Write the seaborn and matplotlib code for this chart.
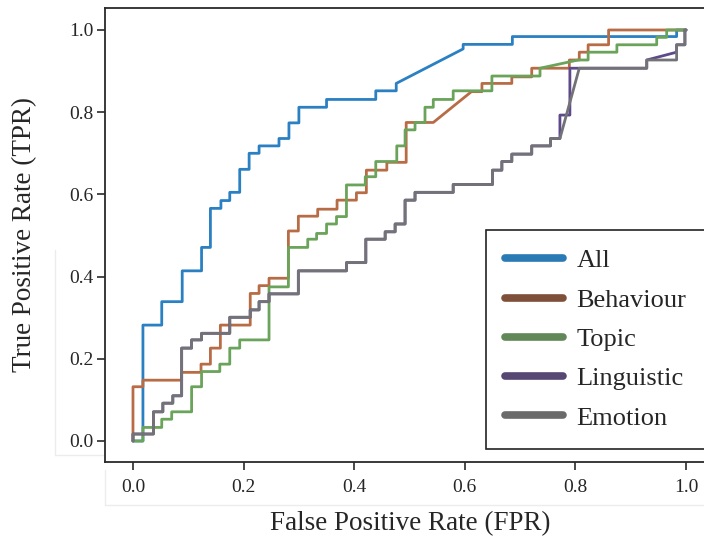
import matplotlib
matplotlib.use("Agg")
import matplotlib.pyplot as plt
from matplotlib.lines import Line2D
import seaborn as sns
import pandas as pd

# ---- data: ROC curve corner points ----
series_names = ["All", "Behaviour", "Topic", "Linguistic", "Emotion"]

all_fpr = [0, 0.018, 0.018, 0.052, 0.052, 0.089, 0.089, 0.124, 0.124, 0.140, 0.140, 0.159, 0.159,
           0.175, 0.175, 0.193, 0.193, 0.210, 0.210, 0.228, 0.228, 0.264, 0.264, 0.282, 0.282,
           0.300, 0.300, 0.350, 0.350, 0.439, 0.439, 0.476, 0.476, 0.597, 0.597, 0.686, 0.686,
           0.983, 0.983, 1.0]
all_tpr = [0, 0, 0.282, 0.282, 0.339, 0.339, 0.414, 0.414, 0.471, 0.471, 0.566, 0.566, 0.585,
           0.585, 0.605, 0.605, 0.661, 0.661, 0.700, 0.700, 0.718, 0.718, 0.736, 0.736, 0.774,
           0.774, 0.812, 0.812, 0.831, 0.831, 0.852, 0.852, 0.870, 0.954, 0.965, 0.965, 0.984,
           0.984, 1.0, 1.0]

beh_fpr = [0, 0, 0.018, 0.018, 0.088, 0.088, 0.123, 0.123, 0.140, 0.140, 0.158, 0.158, 0.212,
           0.212, 0.228, 0.228, 0.246, 0.246, 0.281, 0.281, 0.299, 0.299, 0.334, 0.334, 0.369,
           0.369, 0.404, 0.404, 0.422, 0.422, 0.459, 0.459, 0.494, 0.494, 0.543, 0.612, 0.631,
           0.631, 0.685, 0.685, 0.721, 0.721, 0.789, 0.789, 0.807, 0.807, 0.823, 0.823, 0.860,
           0.860, 1.0]
beh_tpr = [0, 0.132, 0.132, 0.148, 0.148, 0.167, 0.167, 0.187, 0.187, 0.226, 0.226, 0.282, 0.282,
           0.359, 0.359, 0.378, 0.378, 0.396, 0.396, 0.511, 0.511, 0.547, 0.547, 0.564, 0.564,
           0.586, 0.586, 0.604, 0.604, 0.659, 0.659, 0.678, 0.678, 0.775, 0.775, 0.850, 0.850,
           0.870, 0.870, 0.886, 0.886, 0.907, 0.907, 0.927, 0.927, 0.946, 0.946, 0.964, 0.964,
           1.0, 1.0]

top_fpr = [0, 0.018, 0.018, 0.052, 0.052, 0.070, 0.070, 0.106, 0.106, 0.124, 0.124, 0.157, 0.157,
           0.175, 0.175, 0.193, 0.193, 0.246, 0.246, 0.281, 0.281, 0.316, 0.316, 0.332, 0.332,
           0.350, 0.350, 0.368, 0.368, 0.386, 0.386, 0.420, 0.420, 0.439, 0.439, 0.477, 0.477,
           0.492, 0.492, 0.510, 0.510, 0.528, 0.528, 0.543, 0.543, 0.579, 0.579, 0.649, 0.649,
           0.736, 0.736, 0.805, 0.823, 0.823, 0.875, 0.875, 0.947, 0.947, 0.965, 0.965, 1.0]
top_tpr = [0, 0, 0.033, 0.033, 0.053, 0.053, 0.071, 0.071, 0.132, 0.132, 0.169, 0.169, 0.187,
           0.187, 0.226, 0.226, 0.246, 0.246, 0.375, 0.375, 0.471, 0.471, 0.491, 0.491, 0.505,
           0.505, 0.528, 0.528, 0.546, 0.546, 0.623, 0.623, 0.643, 0.643, 0.680, 0.680, 0.718,
           0.718, 0.757, 0.757, 0.775, 0.775, 0.812, 0.812, 0.831, 0.831, 0.852, 0.852, 0.888,
           0.888, 0.907, 0.927, 0.927, 0.946, 0.946, 0.964, 0.964, 0.982, 0.982, 1.0, 1.0]

lin_fpr = [0, 0, 0.037, 0.037, 0.054, 0.054, 0.072, 0.072, 0.088, 0.088, 0.106, 0.106, 0.124,
           0.124, 0.175, 0.175, 0.212, 0.212, 0.228, 0.228, 0.246, 0.246, 0.299, 0.299, 0.386,
           0.386, 0.421, 0.421, 0.456, 0.456, 0.474, 0.474, 0.492, 0.492, 0.510, 0.510, 0.579,
           0.579, 0.650, 0.650, 0.667, 0.667, 0.685, 0.685, 0.721, 0.721, 0.755, 0.755, 0.772,
           0.772, 0.790, 0.790, 0.929, 0.929, 0.983, 0.983, 0.998, 0.998, 1.0]
lin_tpr = [0, 0.017, 0.017, 0.071, 0.071, 0.092, 0.092, 0.110, 0.110, 0.226, 0.226, 0.246, 0.246,
           0.262, 0.262, 0.301, 0.301, 0.319, 0.319, 0.339, 0.339, 0.358, 0.358, 0.414, 0.414,
           0.434, 0.434, 0.491, 0.491, 0.509, 0.509, 0.528, 0.528, 0.586, 0.586, 0.605, 0.605,
           0.624, 0.624, 0.659, 0.659, 0.680, 0.680, 0.698, 0.698, 0.718, 0.718, 0.736, 0.736,
           0.793, 0.793, 0.907, 0.907, 0.927, 0.946, 0.964, 0.964, 1.0, 1.0]

emo_fpr = [0, 0, 0.037, 0.037, 0.054, 0.054, 0.072, 0.072, 0.088, 0.088, 0.106, 0.106, 0.124,
           0.124, 0.175, 0.175, 0.212, 0.212, 0.228, 0.228, 0.246, 0.246, 0.299, 0.299, 0.386,
           0.386, 0.421, 0.421, 0.456, 0.456, 0.474, 0.474, 0.492, 0.492, 0.510, 0.510, 0.579,
           0.579, 0.650, 0.650, 0.667, 0.667, 0.685, 0.685, 0.721, 0.721, 0.755, 0.755, 0.772,
           0.807, 0.929, 0.929, 0.983, 0.983, 0.998, 0.998, 1.0]
emo_tpr = [0, 0.017, 0.017, 0.071, 0.071, 0.092, 0.092, 0.110, 0.110, 0.226, 0.226, 0.246, 0.246,
           0.262, 0.262, 0.301, 0.301, 0.319, 0.319, 0.339, 0.339, 0.358, 0.358, 0.414, 0.414,
           0.434, 0.434, 0.491, 0.491, 0.509, 0.509, 0.528, 0.528, 0.586, 0.586, 0.605, 0.605,
           0.624, 0.624, 0.659, 0.659, 0.680, 0.680, 0.698, 0.698, 0.718, 0.718, 0.736, 0.736,
           0.907, 0.907, 0.927, 0.927, 0.964, 0.964, 1.0, 1.0]

x_ticks = [0.0, 0.2, 0.4, 0.6, 0.8, 1.0]
y_ticks = [0.0, 0.2, 0.4, 0.6, 0.8, 1.0]

line_colors = ["#2a80c2", "#b86c46", "#6aa35a", "#5e4a8a", "#737377"]
legend_colors = ["#2a7ab5", "#7e5039", "#62885a", "#564872", "#6b6b6b"]

# ---- build long table ----
curves = [(all_fpr, all_tpr), (beh_fpr, beh_tpr), (top_fpr, top_tpr),
          (lin_fpr, lin_tpr), (emo_fpr, emo_tpr)]
rows = []
for name, (fx, ty) in zip(series_names, curves):
    for i, (a, b) in enumerate(zip(fx, ty)):
        rows.append({"model": name, "order": i, "fpr": a, "tpr": b})
df = pd.DataFrame(rows)

sns.set_theme(style="ticks")
plt.rcParams["font.family"] = ["Liberation Serif", "DejaVu Serif"]

fig = plt.figure(figsize=(7.04, 5.39), dpi=100)
ax = fig.add_axes([105 / 704, 77 / 539, (714 - 105) / 704, (462 - 8) / 539])

# faint screenshot boxes
def faint(x0, y0, x1, y1):
    fig.add_artist(Line2D([x0 / 704, x1 / 704], [1 - y0 / 539, 1 - y1 / 539],
                          color="#ececec", lw=1.0, zorder=0))
faint(55, 455, 105, 455)
faint(55, 250, 55, 455)
faint(105, 505, 704, 505)
faint(105, 470, 105, 505)

sns.lineplot(data=df, x="fpr", y="tpr", hue="model", hue_order=series_names,
             palette=line_colors, sort=False, estimator=None, units="model",
             linewidth=2.0, legend=False, ax=ax)

ax.set_xlim(-0.0506, 1.0506)
ax.set_ylim(-0.0511, 1.0535)
ax.set_xticks(x_ticks)
ax.set_yticks(y_ticks)
ax.set_xticklabels([f"{v:.1f}" for v in x_ticks])
ax.set_yticklabels([f"{v:.1f}" for v in y_ticks])

for s in ["left", "top", "bottom", "right"]:
    ax.spines[s].set_linewidth(1.3)
    ax.spines[s].set_color("#2a2a2a")

ax.tick_params(axis="x", direction="out", length=6, width=1.2, pad=6, labelsize=14,
               color="#2a2a2a")
ax.tick_params(axis="y", direction="out", length=6, width=1.2, pad=2, labelsize=14,
               color="#2a2a2a")

ax.set_xlabel("False Positive Rate (FPR)", fontsize=19.5)
ax.set_ylabel("True Positive Rate (TPR)", fontsize=19.5)
ax.xaxis.set_label_coords((410 - 105) / 609, -0.108)
ax.yaxis.set_label_coords((37 - 105) / 609, 0.5)

handles = [Line2D([0], [0], color=c, lw=5.5) for c in legend_colors]
leg = ax.legend(handles, series_names, loc="upper left",
                bbox_to_anchor=(486 / 704, 1 - 230 / 539), bbox_transform=fig.transFigure,
                fontsize=19, handlelength=2.2, handletextpad=0.5, labelspacing=0.6,
                borderpad=0.72, borderaxespad=0, fancybox=False, framealpha=1)
leg.get_frame().set_edgecolor("#222222")
leg.get_frame().set_linewidth(1.2)

fig.savefig("out.png", dpi=100)
